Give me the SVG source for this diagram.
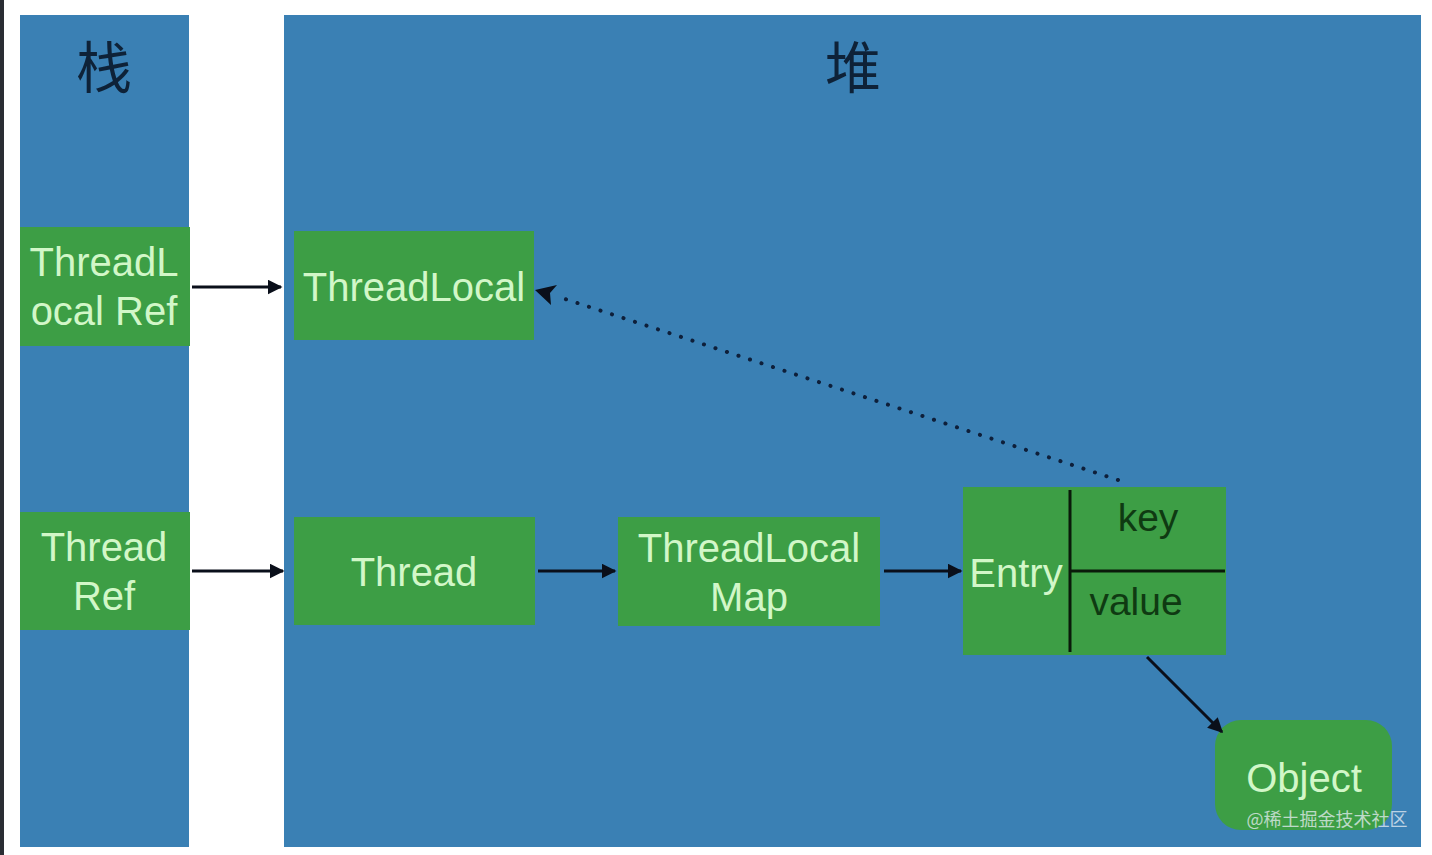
<svg xmlns="http://www.w3.org/2000/svg" width="1432" height="855" viewBox="0 0 1432 855">
<defs>
<style>
.panel{fill:#3a80b4}
.box{fill:#3d9e45}
.lbl{font-family:"Liberation Sans",Arial,sans-serif;font-size:40px;fill:#d2f7c8;text-anchor:middle}
.dk{font-family:"Liberation Sans",Arial,sans-serif;font-size:39px;fill:#0f3a12;text-anchor:middle}
.title{font-family:"Noto Sans CJK SC",sans-serif;font-size:56px;fill:#0e2238;text-anchor:middle}
.conn{stroke:#0a0f1a;stroke-width:3;fill:none}
</style>
<marker id="ah" viewBox="0 0 10 10" refX="9" refY="5" markerWidth="5" markerHeight="5" orient="auto" markerUnits="strokeWidth">
<path d="M0,0 L10,5 L0,10 z" fill="#0a0f1a"/>
</marker>
</defs>
<rect width="1432" height="855" fill="#ffffff"/>
<rect x="0" y="0" width="4" height="855" fill="#2a2d33"/>
<g id="stack">
<rect class="panel" x="20" y="15" width="169" height="832"/>
<text class="title" x="104" y="88">栈</text>
</g>
<g id="heap">
<rect class="panel" x="284" y="15" width="1137" height="832"/>
<text class="title" x="853" y="88">堆</text>
</g>
<g id="threadlocal-ref">
<rect class="box" x="20" y="227" width="170" height="119"/>
<text class="lbl" x="104" y="276">ThreadL</text>
<text class="lbl" x="104" y="325">ocal Ref</text>
</g>
<g id="thread-ref">
<rect class="box" x="20" y="512" width="170" height="118"/>
<text class="lbl" x="104" y="561">Thread</text>
<text class="lbl" x="104" y="610">Ref</text>
</g>
<g id="threadlocal">
<rect class="box" x="294" y="231" width="240" height="109"/>
<text class="lbl" x="414" y="301">ThreadLocal</text>
</g>
<g id="thread">
<rect class="box" x="294" y="517" width="241" height="108"/>
<text class="lbl" x="414" y="586">Thread</text>
</g>
<g id="threadlocalmap">
<rect class="box" x="618" y="517" width="262" height="109"/>
<text class="lbl" x="749" y="562">ThreadLocal</text>
<text class="lbl" x="749" y="611">Map</text>
</g>
<g id="entry">
<rect class="box" x="963" y="487" width="263" height="168"/>
<line x1="1070" y1="490" x2="1070" y2="652" stroke="#0a1a0a" stroke-width="3"/>
<line x1="1070" y1="571" x2="1225" y2="571" stroke="#0a1a0a" stroke-width="3"/>
<text class="lbl" x="1016" y="587">Entry</text>
<text class="dk" x="1148" y="531">key</text>
<text class="dk" x="1136" y="615">value</text>
</g>
<g id="object">
<rect class="box" x="1215" y="720" width="177" height="110" rx="26"/>
<text class="lbl" x="1304" y="792">Object</text>
</g>
<g id="connectors">
<line class="conn" x1="192" y1="287" x2="281" y2="287" marker-end="url(#ah)"/>
<line class="conn" x1="192" y1="571" x2="283" y2="571" marker-end="url(#ah)"/>
<line class="conn" x1="538" y1="571" x2="615" y2="571" marker-end="url(#ah)"/>
<line class="conn" x1="884" y1="571" x2="961" y2="571" marker-end="url(#ah)"/>
<line class="conn" x1="1147" y1="657" x2="1222" y2="732" marker-end="url(#ah)"/>
<line x1="1118" y1="480" x2="556" y2="296" stroke="#0e1f3a" stroke-width="4" stroke-dasharray="0.1 12" stroke-linecap="round"/>
<path d="M535,290 L557,285 L550,293 L551,305 z" fill="#0a0f1a"/>
</g>
<text x="1327" y="826" font-family="Noto Sans CJK SC,sans-serif" font-size="18" fill="#e8eef4" fill-opacity="0.75" text-anchor="middle">@稀土掘金技术社区</text>
</svg>
